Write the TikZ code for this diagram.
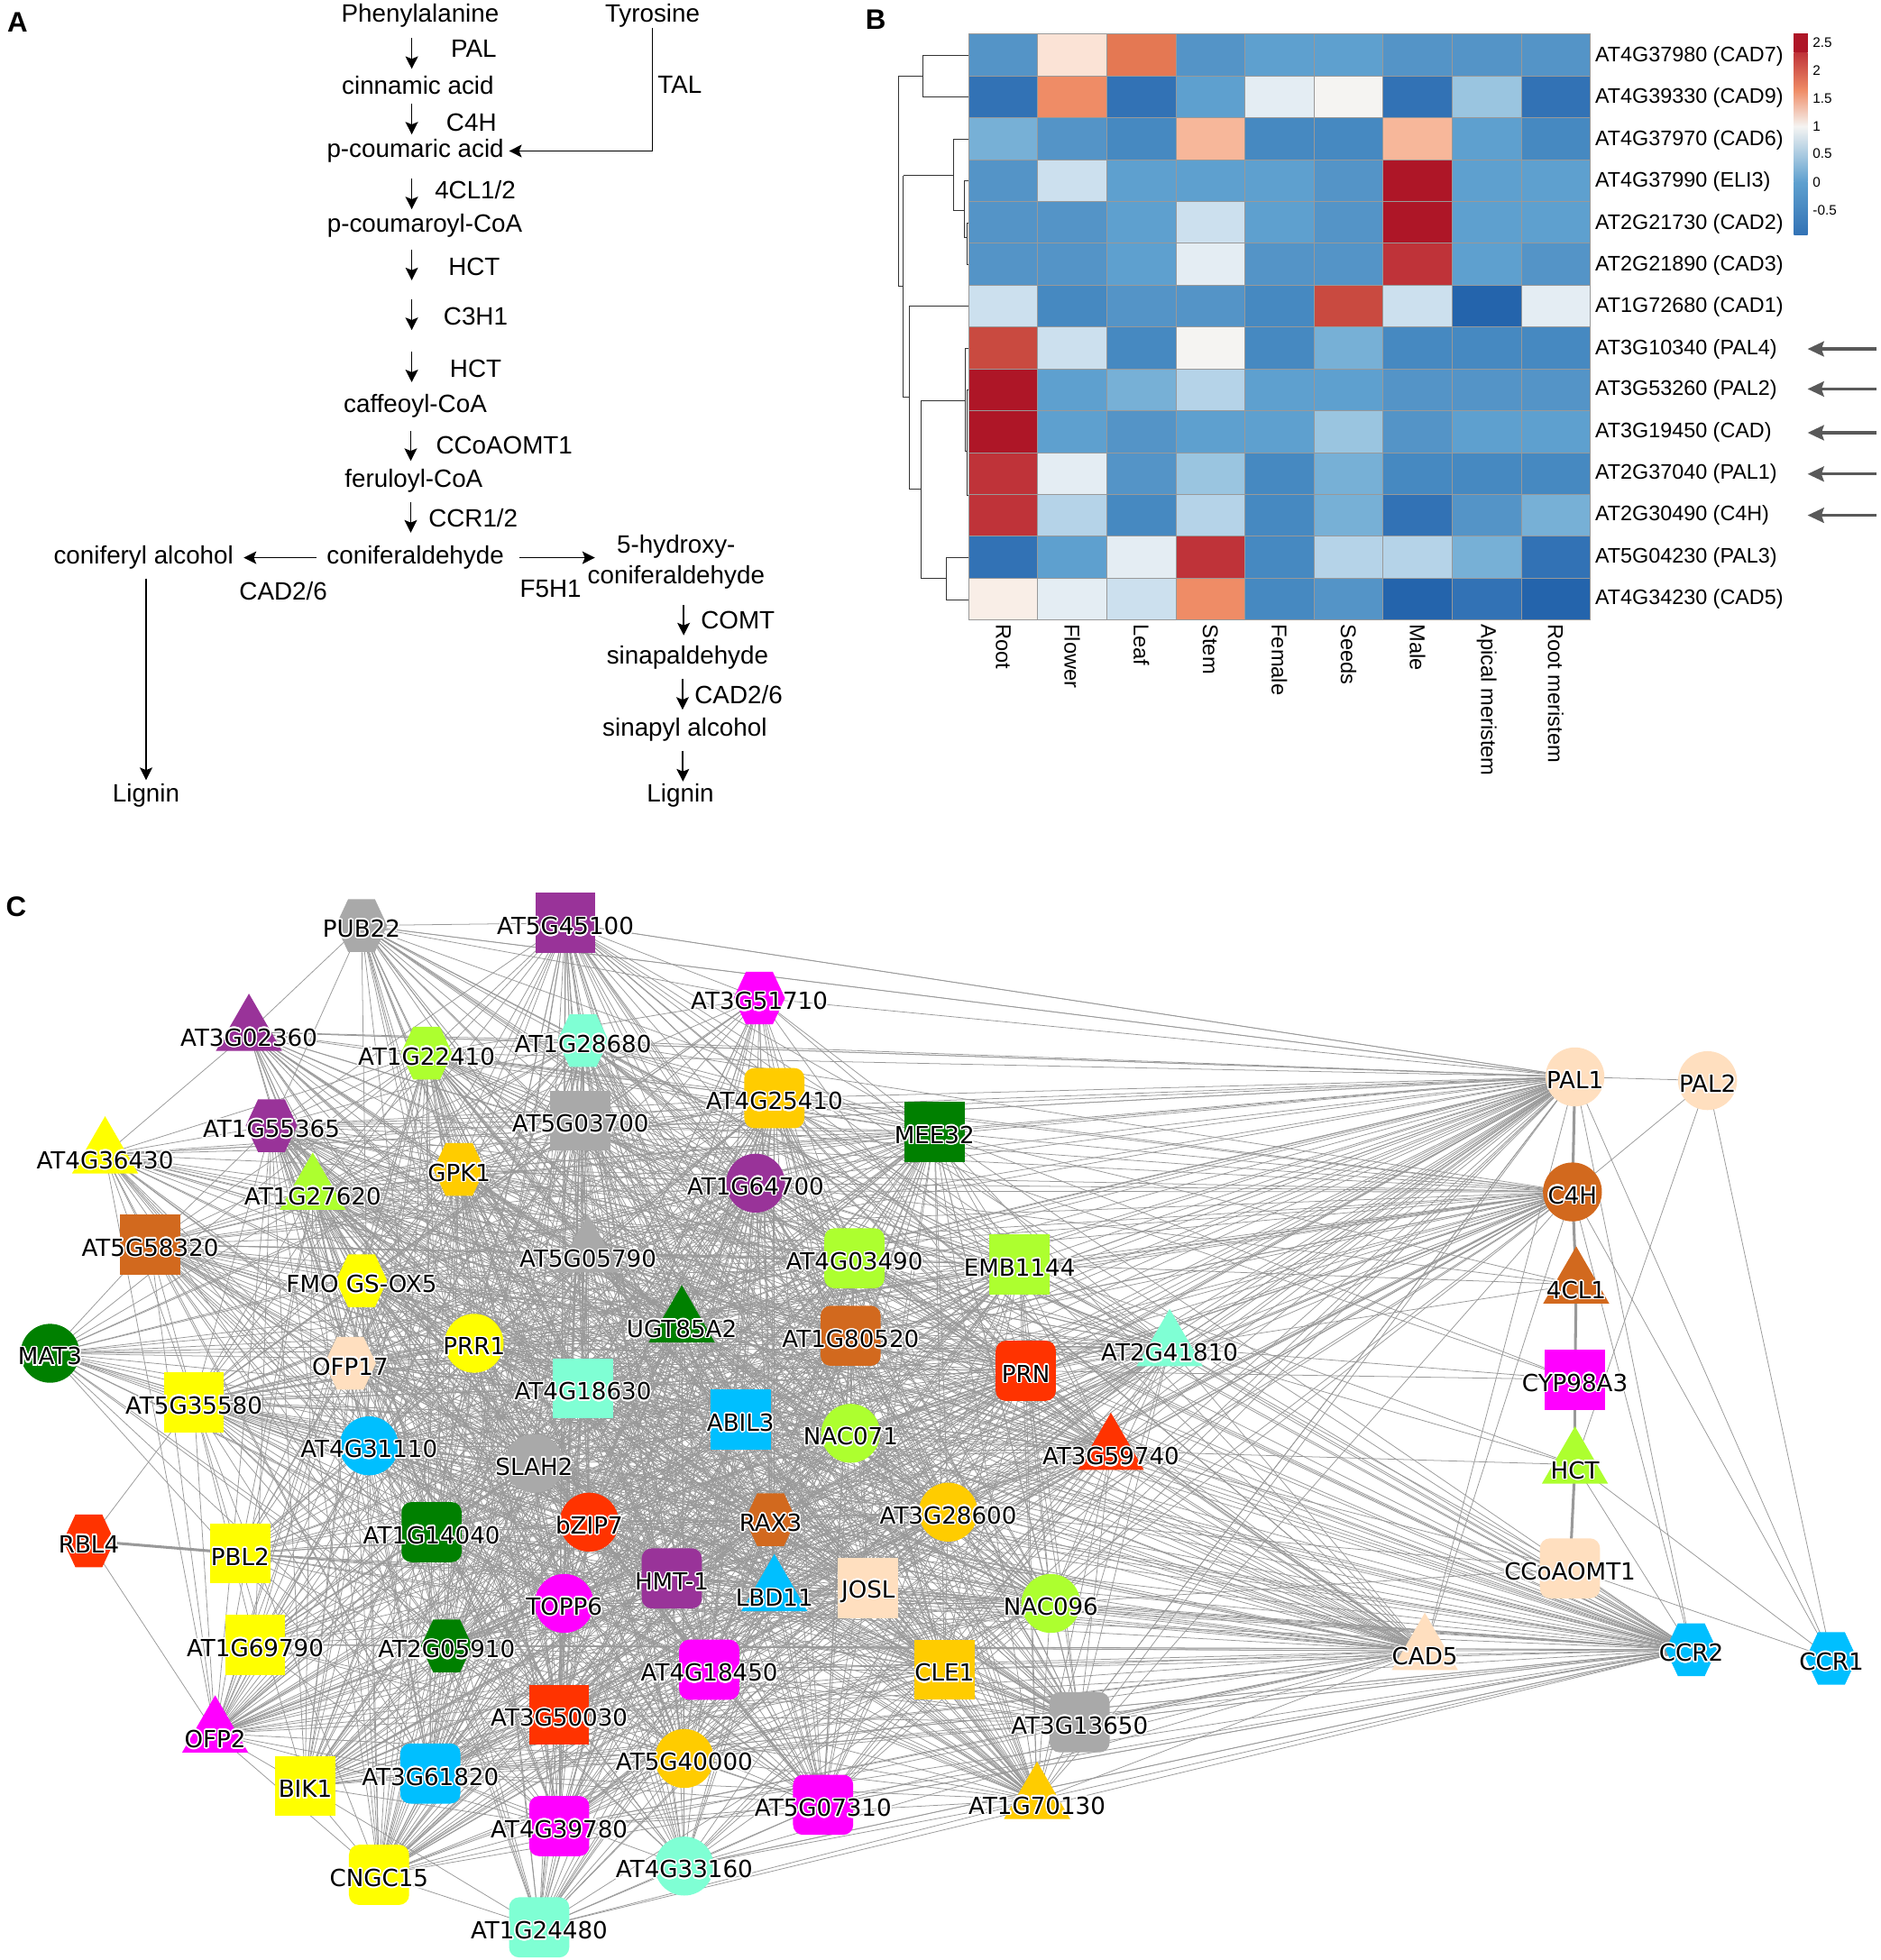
\documentclass[tikz,border=0pt]{standalone}
\usepackage{fontspec}
\usepackage[copies]{contour}
\setmainfont{Liberation Sans}
\newfontfamily\netfont{DejaVu Sans}
\usetikzlibrary{arrows.meta,backgrounds,shapes.geometric,shapes.symbols}
\contourlength{1.1pt}
\contournumber{16}
\newcommand{\lab}[1]{\contour{white}{#1}}
\newcommand{\corenodes}{AT1G22410,AT1G28680,AT4G25410,MEE32,AT1G55365,AT5G03700,GPK1,AT1G27620,AT1G64700,AT5G05790,AT4G03490,EMB1144,FMO GS-OX5,UGT85A2,AT1G80520,AT2G41810,PRR1,OFP17,PRN,AT4G18630,AT5G35580,ABIL3,NAC071,AT4G31110,AT3G59740,SLAH2,AT3G28600,RAX3,bZIP7,AT1G14040,HMT-1,JOSL,LBD11,TOPP6,NAC096,AT2G05910,AT4G18450,CLE1,AT3G50030,AT5G40000,AT3G61820,AT4G39780}
\definecolor{netgray}{HTML}{A9A9A9}
\definecolor{netpurple}{HTML}{993399}
\definecolor{netmagenta}{HTML}{FF00FF}
\definecolor{netlime}{HTML}{ADFF2F}
\definecolor{netaqua}{HTML}{7FFFD4}
\definecolor{netgold}{HTML}{FFCC00}
\definecolor{netgreen}{HTML}{008000}
\definecolor{netpeach}{HTML}{FFDFBF}
\definecolor{netbrown}{HTML}{D2691E}
\definecolor{netyellow}{HTML}{FFFF00}
\definecolor{netsky}{HTML}{00BFFF}
\definecolor{netred}{HTML}{FF3300}
\definecolor{edgegray}{HTML}{999999}
\definecolor{ha}{HTML}{2464AC}
\definecolor{hb}{HTML}{3272B5}
\definecolor{hc}{HTML}{4689C1}
\definecolor{hd}{HTML}{5494C7}
\definecolor{he}{HTML}{5EA0CF}
\definecolor{hf}{HTML}{77B0D6}
\definecolor{hg}{HTML}{9AC5E0}
\definecolor{hh}{HTML}{B5D3E8}
\definecolor{hi}{HTML}{CCE0EE}
\definecolor{hj}{HTML}{E4EDF3}
\definecolor{hk}{HTML}{F5F4F2}
\definecolor{hl}{HTML}{FBE3D6}
\definecolor{hm}{HTML}{F7B79A}
\definecolor{hn}{HTML}{EF8C66}
\definecolor{ho}{HTML}{E47853}
\definecolor{hp}{HTML}{C94A40}
\definecolor{hq}{HTML}{BF3339}
\definecolor{hr}{HTML}{AE1627}
\definecolor{hu}{HTML}{F9EEE7}
\tikzset{
  pathtext/.style={inner sep=0pt,font=\fontsize{20}{24.7}\selectfont,align=center},
  paneltext/.style={inner sep=0pt,font=\fontsize{22.5}{24}\selectfont\bfseries},
  pathway/.style={-{Stealth[length=10pt,width=10pt,inset=2pt]},line width=1.2pt},
  rowtext/.style={inner sep=0pt,anchor=west,font=\fontsize{16.8}{18}\selectfont},
  coltext/.style={inner sep=0pt,anchor=west,rotate=-90,font=\fontsize{17}{18}\selectfont},
  bartext/.style={inner sep=0pt,anchor=west,font=\fontsize{11}{12}\selectfont},
  heatcell/.style={draw=gray!80,line width=.6pt},
  dendro/.style={draw=black!80,line width=.6pt},
  markarrow/.style={-{Stealth[length=13pt,width=12pt,inset=2pt]},line width=2.4pt,draw=black!65},
  netlab/.style={inner sep=0pt,yshift=-3pt,font=\netfont\fontsize{18.8}{20}\selectfont},
  trilab/.style={inner sep=0pt,yshift=-5pt,font=\netfont\fontsize{18.8}{20}\selectfont},
  hexnode/.style={signal,signal to=east and west,signal pointer angle=130,minimum width=41pt,minimum height=42pt,inner sep=0pt},
  squarenode/.style={rectangle,minimum size=48pt,inner sep=0pt},
  roundnode/.style={rectangle,rounded corners=8pt,minimum size=48pt,inner sep=0pt},
  circlenode/.style={circle,minimum size=47pt,inner sep=0pt},
  trinode/.style={regular polygon,regular polygon sides=3,minimum size=61pt,inner sep=0pt},
  edge/.style={draw=edgegray,line width=.55pt},
  thickedge/.style={draw=edgegray,line width=2.2pt}
}
\begin{document}
\begin{tikzpicture}[x=.998pt,y=-.998pt]
  \useasboundingbox (0,0) rectangle (1503,1567.1);

  \node (panelB) [paneltext] at (700,16) {B};
  \node (panelC) [paneltext] at (13,725) {C};

  \begin{scope}[x=.996pt,y=-1pt]
  \node (panelA) [paneltext] at (14,18) {A};
  \coordinate (ax) at (329.8,0);
  \coordinate (ay) at (329,0);
  \coordinate (bx) at (547.6,0);
  \coordinate (cx) at (546.7,0);
  \coordinate (dx) at (547,0);
  \node (phe) [pathtext] at (336.6,12.7) {Phenylalanine};
  \node (tyr) [pathtext] at (522.6,12.7) {Tyrosine};
  \node (pal) [pathtext] at (379.4,39) {PAL};
  \node (cin) [pathtext] at (334.7,67.9) {cinnamic acid};
  \node (tal) [pathtext] at (544.5,67.9) {TAL};
  \node (c4h) [pathtext] at (377.6,97.6) {C4H};
  \node (pcou) [pathtext] at (332.7,120.5) {p-coumaric acid};
  \node (cl4) [pathtext] at (380.7,151.4) {4CL1/2};
  \node (pcoa) [pathtext] at (340.2,179.9) {p-coumaroyl-CoA};
  \node (hcta) [pathtext] at (379.8,213) {HCT};
  \node (c3h) [pathtext] at (381,252.8) {C3H1};
  \node (hctb) [pathtext] at (381,294.4) {HCT};
  \node (caf) [pathtext] at (332.6,323.7) {caffeoyl-CoA};
  \node (ccoa) [pathtext] at (403.9,355.5) {CCoAOMT1};
  \node (fer) [pathtext] at (331.4,383.9) {feruloyl-CoA};
  \node (ccr) [pathtext] at (379,413.6) {CCR1/2};
  \node (cald) [pathtext] at (332.7,445) {coniferaldehyde};
  \node (calc) [pathtext] at (115,445) {coniferyl alcohol};
  \node (cada) [pathtext] at (226.9,471.7) {CAD2/6};
  \node (hyd) [pathtext] at (541.6,448.4) {5-hydroxy-\\coniferaldehyde};
  \node (f5h) [pathtext] at (441,470) {F5H1};
  \node (comt) [pathtext] at (591,494.6) {COMT};
  \node (sald) [pathtext] at (550.7,525) {sinapaldehyde};
  \node (cadb) [pathtext] at (591.6,554.4) {CAD2/6};
  \node (salc) [pathtext] at (548.5,582.4) {sinapyl alcohol};
  \node (liga) [pathtext] at (117,635) {Lignin};
  \node (ligb) [pathtext] at (545,635) {Lignin};

  \coordinate (hctaend) at (329.8,223.6);
  \coordinate (c3hstart) at (329.8,238.8);
  \coordinate (c3hend) at (329.8,263.4);
  \coordinate (hctbstart) at (329.8,280.4);

  \draw[pathway,shorten <=17.8pt,shorten >=12.9pt] (phe -| ax) -- (cin -| ax);
  \draw[pathway,shorten <=14.8pt,shorten >=13.2pt] (cin -| ax) -- (pcou -| ax);
  \draw[pathway,shorten >=4pt] (tyr.south) |- (pcou.east);
  \draw[pathway,shorten <=22pt,shorten >=12.9pt] (pcou -| ax) -- (pcoa -| ax);
  \draw[pathway,shorten <=19.1pt] (pcoa -| ax) -- (hctaend);
  \draw[pathway] (c3hstart) -- (c3hend);
  \draw[pathway,shorten >=18.7pt] (hctbstart) -- (caf -| ax);
  \draw[pathway,shorten <=20.3pt,shorten >=16.1pt] (caf -| ay) -- (fer -| ay);
  \draw[pathway,shorten <=17pt,shorten >=20pt] (fer -| ay) -- (cald -| ay);
  \draw[pathway,shorten <=8pt,shorten >=8pt] (cald.west) -- (calc.east);
  \draw[pathway,shorten <=12pt,shorten >=-6pt] (cald.east) -- (hyd.west |- cald);
  \draw[pathway,shorten <=7pt,shorten >=3pt] (calc.south -| liga) -- (liga.north);
  \draw[pathway,shorten <=34.3pt,shorten >=18pt] (hyd -| bx) -- (sald -| bx);
  \draw[pathway,shorten <=16.7pt,shorten >=16.1pt] (sald -| cx) -- (salc -| cx);
  \draw[pathway,shorten <=16.6pt,shorten >=11.4pt] (salc -| dx) -- (ligb -| dx);
  \end{scope}

  \foreach \row [count=\j from 0] in {{d,l,o,d,e,e,d,d,d},{b,n,b,e,j,k,b,g,b},{f,d,c,m,c,c,m,e,c},{d,i,e,e,e,d,r,e,e},{d,d,e,i,e,d,r,e,e},{d,d,e,j,d,d,q,e,d},{i,c,d,d,c,p,i,a,j},{p,i,c,k,c,f,c,c,c},{r,e,f,h,e,e,d,d,d},{r,e,d,e,e,g,d,e,e},{q,j,d,g,c,f,c,c,c},{q,h,c,h,c,f,b,d,f},{b,e,j,q,c,h,h,f,b},{u,j,i,n,c,d,a,b,a}}{
    \foreach \v [count=\i from 0] in \row {
      \path[heatcell,fill=h\v] ({774.4+\i*55.2},{27.3+\j*33.45}) rectangle ++(55.2,33.45);
    }
  }

  \foreach \nm/\txt/\y in {cad7/AT4G37980 (CAD7)/45,cad9/AT4G39330 (CAD9)/78,cad6/AT4G37970 (CAD6)/112,eli3/AT4G37990 (ELI3)/145,cad2/AT2G21730 (CAD2)/179,cad3/AT2G21890 (CAD3)/212,cad1/AT1G72680 (CAD1)/245.5,pal4/AT3G10340 (PAL4)/279,pal2/AT3G53260 (PAL2)/312,cadx/AT3G19450 (CAD)/345.5,pal1/AT2G37040 (PAL1)/378.5,c4hr/AT2G30490 (C4H)/412,pal3/AT5G04230 (PAL3)/445.5,cad5/AT4G34230 (CAD5)/479}{
    \node (row\nm) [rowtext] at (1275,\y) {\txt};
  }

  \foreach \txt [count=\i from 0] in {Root,Flower,Leaf,Stem,Female,Seeds,Male,Apical meristem,Root meristem}{
    \node (col\i) [coltext] at ({802+\i*55.2},499) {\txt};
  }

  \foreach \nm/\y in {pal4/279,pal2/311,cadx/346,pal1/379,c4hr/412}{
    \coordinate (mark\nm) at (1500,\y);
    \coordinate (tip\nm) at (1445,\y);
    \draw[markarrow] (mark\nm) -- (tip\nm);
  }

  \shade[bottom color=hb,top color=he] (1434,188) rectangle (1445,145.5);
  \shade[bottom color=he,top color=hk] (1434,145.6) rectangle (1445,101);
  \shade[bottom color=hk,top color=hn] (1434,101.1) rectangle (1445,72);
  \shade[bottom color=hn,top color=hq] (1434,72.1) rectangle (1445,42);
  \fill[hr] (1434,42.1) rectangle (1445,27);
  \foreach \nm/\txt/\y in {a/2.5/34,b/2/56,c/1.5/78.6,d/1/101,e/0.5/123,f/0/145.6,g/-0.5/168}{
    \node (bar\nm) [bartext] at (1449,\y) {\txt};
  }

  \begin{scope}[xshift=1.8pt]
  \draw[dendro] (772.6,44) -| (735.7,77.5) -- (772.6,77.5);
  \draw[dendro] (735.7,60.7) -| (716.5,228.7) -- (720.2,228.7);
  \draw[dendro] (720.2,140.4) |- (720.2,317.7) -- (725.4,317.7);
  \draw[dendro] (720.2,140.4) -- (760.6,140.4);
  \draw[dendro] (772.6,111) -| (760.6,168) -- (769,168);
  \draw[dendro] (772.6,144.5) -| (769,190) -- (771,190);
  \draw[dendro] (772.6,178) -| (771,211.5) -- (772.6,211.5);
  \draw[dendro] (772.6,245) -| (725.4,391) -- (734.2,391);
  \draw[dendro] (770,320) -| (734.2,462) -- (754.4,462);
  \draw[dendro] (772.6,278.5) -| (770,361) -- (771,361);
  \draw[dendro] (772.6,312) -| (771,396) -- (772.6,396);
  \draw[dendro] (772.6,446) -| (754.4,479.5) -- (772.6,479.5);
  \end{scope}

  \foreach \nm/\px/\py/\col in {PUB22/289/740/netgray,AT3G51710/607/798/netmagenta,AT1G22410/341/842/netlime,AT1G28680/466/832/netaqua,AT1G55365/217/900/netpurple,GPK1/367/935/netgold,FMO GS-OX5/289/1024/netyellow,OFP17/280/1090/netpeach,RAX3/616/1215/netbrown,RBL4/71/1232/netred,AT2G05910/357/1316/netgreen,CCR2/1352/1319/netsky,CCR1/1464/1326/netsky}{
    \node (\nm) [hexnode,fill=\col,label={[netlab]center:\lab{\nm}}] at (\px,\py) {};
  }
  \foreach \nm/\px/\py/\col in {AT5G45100/452/738/netpurple,AT5G03700/464/896/netgray,MEE32/747/905/netgreen,AT5G58320/120/995/netbrown,EMB1144/815/1011/netlime,CYP98A3/1259/1103/netmagenta,AT4G18630/466/1110/netaqua,AT5G35580/155/1121/netyellow,ABIL3/592/1135/netsky,PBL2/192/1242/netyellow,JOSL/694/1270/netpeach,AT1G69790/204/1315/netyellow,CLE1/755/1335/netgold,AT3G50030/447/1371/netred,BIK1/244/1428/netyellow}{
    \node (\nm) [squarenode,fill=\col,label={[netlab]center:\lab{\nm}}] at (\px,\py) {};
  }
  \foreach \nm/\px/\py/\col in {AT4G25410/619/878/netgold,AT4G03490/683/1006/netlime,AT1G80520/680/1068/netbrown,PRN/820/1096/netred,AT1G14040/345/1225/netgreen,CCoAOMT1/1255/1254/netpeach,HMT-1/537/1262/netpurple,AT4G18450/567/1335/netmagenta,AT3G13650/863/1377/netgray,AT3G61820/344/1418/netsky,AT5G07310/658/1443/netmagenta,AT4G39780/447/1460/netmagenta,CNGC15/303/1499/netyellow,AT1G24480/431/1541/netaqua}{
    \node (\nm) [roundnode,fill=\col,label={[netlab]center:\lab{\nm}}] at (\px,\py) {};
  }
  \foreach \nm/\px/\py/\col in {PAL1/1259/861/netpeach,PAL2/1365/864/netpeach,AT1G64700/604/946/netpurple,C4H/1257/953/netbrown,MAT3/40/1082/netgreen,PRR1/379/1074/netyellow,NAC071/680/1146/netlime,AT4G31110/295/1156/netsky,SLAH2/427/1170/netgray,AT3G28600/758/1209/netgold,bZIP7/471/1217/netred,TOPP6/451/1282/netmagenta,NAC096/840/1282/netlime,AT5G40000/547/1406/netgold,AT4G33160/547/1492/netaqua}{
    \node (\nm) [circlenode,fill=\col,label={[netlab]center:\lab{\nm}}] at (\px,\py) {};
  }
  \foreach \nm/\px/\py/\col in {AT3G02360/199/825/netpurple,AT4G36430/84/923/netyellow,AT1G27620/250/952/netlime,4CL1/1260/1027/netbrown,AT5G05790/470/1002/netgray,UGT85A2/545/1058/netgreen,AT2G41810/935/1077/netaqua,AT3G59740/888/1160/netred,HCT/1259/1171/netlime,LBD11/619/1273/netsky,CAD5/1139/1320/netpeach,OFP2/172/1386/netmagenta,AT1G70130/829/1439/netgold}{
    \node (\nm) [trinode,fill=\col,label={[trilab]center:\lab{\nm}}] at (\px,\py) {};
  }

  \begin{scope}[on background layer]
    \foreach \a [count=\i] in \corenodes {
      \foreach \b [count=\j] in \corenodes {
        \ifnum\i<\j
          \pgfmathtruncatemacro\pick{mod(\i*\i+\j*7+\i*\j,6)}
          \ifnum\pick>0 \draw[edge] (\a.center) -- (\b.center); \fi
        \fi
      }
    }
    \foreach \p [count=\k] in {PUB22,AT5G45100,AT3G51710,AT3G02360,AT4G36430,AT5G58320,MAT3,RBL4,PBL2,AT1G69790,OFP2,BIK1,CNGC15,AT1G24480,AT4G33160,AT5G07310,AT1G70130,AT3G13650,PAL1,C4H,CAD5,CCR2}{
      \foreach \b [count=\j] in \corenodes {
        \pgfmathtruncatemacro\pick{mod(\j*\j+\k*\j+\k,5)}
        \ifnum\k=8
          \ifnum\pick=0 \draw[edge] (\p.center) -- (\b.center); \fi
        \else
          \ifnum\k=7
            \ifnum\pick<2 \draw[edge] (\p.center) -- (\b.center); \fi
          \else
            \ifnum\k>18
              \draw[edge] (\p.center) -- (\b.center);
            \else
              \ifnum\k<5
                \ifnum\pick<3 \draw[edge] (\p.center) -- (\b.center); \fi
              \else
                \ifnum\pick<4 \draw[edge] (\p.center) -- (\b.center); \fi
              \fi
            \fi
          \fi
        \fi
      }
    }
    \foreach \h [count=\m] in {PAL1,C4H,CCR2,CAD5}{
      \foreach \b [count=\j] in {PUB22,AT5G45100,AT3G51710,AT3G02360,AT4G36430,AT5G58320,PBL2,AT1G69790,OFP2,BIK1,CNGC15,AT1G24480,AT4G33160,AT5G07310,AT1G70130,AT3G13650}{
        \pgfmathtruncatemacro\pick{mod(\m*\j+\j,3)}
        \ifnum\pick>0 \draw[edge] (\h.center) -- (\b.center); \fi
      }
    }
    \foreach \a/\b in {PUB22/AT3G02360,AT3G02360/AT4G36430,PUB22/AT5G45100,PUB22/AT3G51710,PUB22/PAL1,AT5G45100/AT3G51710,AT5G45100/PAL1,AT3G51710/PAL1,AT3G02360/PAL1,MAT3/AT5G58320,RBL4/AT5G35580,RBL4/OFP2,AT4G36430/OFP2,AT5G58320/OFP2,AT5G58320/AT4G36430,AT1G69790/OFP2,OFP2/BIK1,OFP2/CNGC15,BIK1/CNGC15,CNGC15/AT1G24480,BIK1/AT1G24480,AT1G24480/AT4G33160,AT1G24480/AT5G07310,AT1G24480/AT1G70130,AT4G33160/AT5G07310,AT4G33160/AT1G70130,AT1G70130/AT3G13650,PAL1/PAL2,PAL2/C4H,PAL2/CCR1,PAL2/HCT,PAL1/CCR1,PAL1/CCR2,C4H/CCR1,C4H/CCR2,CCoAOMT1/CCR2,CCoAOMT1/CCR1,HCT/CCR1,HCT/CCR2,CCR2/CAD5,CCR2/AT1G70130,CCR2/AT3G13650,CCR2/AT4G33160,CCR2/AT1G24480,CCR2/AT5G07310,CAD5/PAL1,CAD5/C4H,CAD5/AT1G70130,CAD5/AT3G13650,PAL1/AT1G70130,PAL1/AT3G13650,C4H/AT1G70130,PAL1/AT4G36430,PAL1/AT5G58320,C4H/AT5G58320,4CL1/AT1G64700,4CL1/AT2G41810,4CL1/EMB1144,4CL1/MEE32,CYP98A3/AT2G41810,CYP98A3/AT1G28680,CYP98A3/MEE32,CYP98A3/PRN,HCT/AT3G59740,HCT/AT2G41810,HCT/EMB1144,CCoAOMT1/AT3G59740,CCoAOMT1/AT2G41810,CCoAOMT1/NAC096,CCoAOMT1/AT3G28600}{
      \draw[edge] (\a.center) -- (\b.center);
    }
    \foreach \a/\b in {PAL1/C4H,C4H/4CL1,4CL1/CYP98A3,CYP98A3/HCT,HCT/CCoAOMT1,RBL4/PBL2}{
      \draw[thickedge] (\a.center) -- (\b.center);
    }
  \end{scope}
\end{tikzpicture}
\end{document}
